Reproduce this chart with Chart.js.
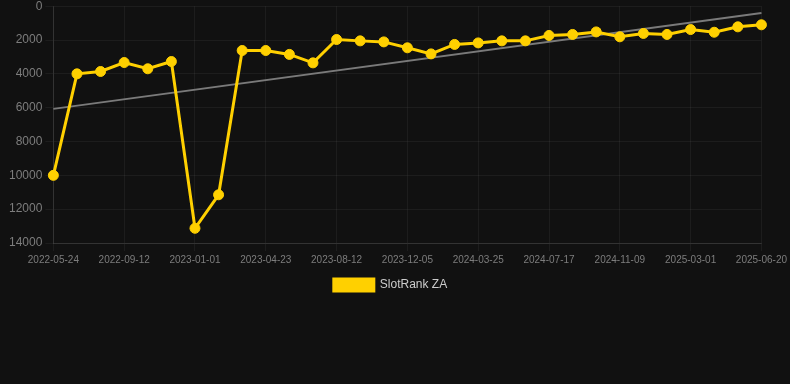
<!DOCTYPE html>
<html>
<head>
<meta charset="utf-8">
<script src="https://cdn.jsdelivr.net/npm/chart.js@4"></script>
<style>
  html, body { margin: 0; padding: 0; background: #111111; overflow: hidden; }
  #wrap { width: 790px; height: 305px; position: relative; margin-top: -4px; }
</style>
</head>
<body>
<div id="wrap"><canvas id="c"></canvas></div>
<script>
const dates = [
  "2022-05-24","2022-06-30","2022-08-06","2022-09-12","2022-10-19","2022-11-25",
  "2023-01-01","2023-02-07","2023-03-17","2023-04-23","2023-05-30","2023-07-06",
  "2023-08-12","2023-09-19","2023-10-28","2023-12-05","2024-01-11","2024-02-17",
  "2024-03-25","2024-05-02","2024-06-09","2024-07-17","2024-08-24","2024-10-01",
  "2024-11-09","2024-12-16","2025-01-22","2025-03-01","2025-04-07","2025-05-14",
  "2025-06-20"
];
const rankZA = [
  10000, 4000, 3860, 3330, 3700, 3270,
  13130, 11150, 2620, 2620, 2850, 3350,
  1970, 2050, 2110, 2460, 2820, 2260,
  2170, 2050, 2050, 1730, 1670, 1520,
  1810, 1610, 1670, 1380, 1540, 1220,
  1100
];
const trendStart = 6070;
const trendEnd = 400;
const yTicks = [0, 2000, 4000, 6000, 8000, 10000, 12000, 14000];

const trend = dates.map((d, i) => i === 0 ? trendStart : (i === dates.length - 1 ? trendEnd : null));

Chart.defaults.font.family = "'Liberation Sans', Arial, Helvetica, sans-serif";

new Chart(document.getElementById('c'), {
  type: 'line',
  data: {
    labels: dates,
    datasets: [
      {
        label: 'SlotRank ZA',
        data: rankZA,
        borderColor: '#FFD000',
        backgroundColor: '#FFD000',
        pointBackgroundColor: '#FFD000',
        pointBorderColor: '#FFD000',
        borderWidth: 3,
        pointRadius: 5,
        pointBorderWidth: 1,
        tension: 0,
        order: 1
      },
      {
        label: 'trend',
        data: trend,
        spanGaps: true,
        borderColor: '#7a7a7a',
        borderWidth: 2,
        pointRadius: 0,
        tension: 0,
        order: 2
      }
    ]
  },
  options: {
    responsive: true,
    maintainAspectRatio: false,
    animation: false,
    layout: { padding: { left: 6, right: 15, top: 0, bottom: 0 } },
    plugins: {
      legend: {
        position: 'bottom',
        labels: {
          color: '#cccccc',
          font: { size: 12 },
          boxWidth: 40,
          boxHeight: 12,
          filter: (item) => item.text !== 'trend'
        }
      },
      tooltip: { enabled: false }
    },
    scales: {
      x: {
        ticks: {
          color: '#7d7d7d',
          font: { size: 10 },
          maxRotation: 0,
          autoSkip: false,
          callback: function(v, i) { return i % 3 === 0 ? dates[i] : ''; }
        },
        grid: {
          color: (ctx) => (ctx.index % 3 === 0 ? 'rgba(255,255,255,0.05)' : 'rgba(0,0,0,0)'),
          drawTicks: true
        },
        border: { color: 'rgba(255,255,255,0.1)' }
      },
      y: {
        reverse: true,
        min: 0,
        max: 14000,
        afterBuildTicks: (axis) => { axis.ticks = yTicks.map(v => ({ value: v })); },
        ticks: {
          color: '#7d7d7d',
          font: { size: 12 },
          callback: (v) => String(v)
        },
        grid: { color: 'rgba(255,255,255,0.05)' },
        border: { color: 'rgba(255,255,255,0.1)' }
      }
    }
  }
});
</script>
</body>
</html>
